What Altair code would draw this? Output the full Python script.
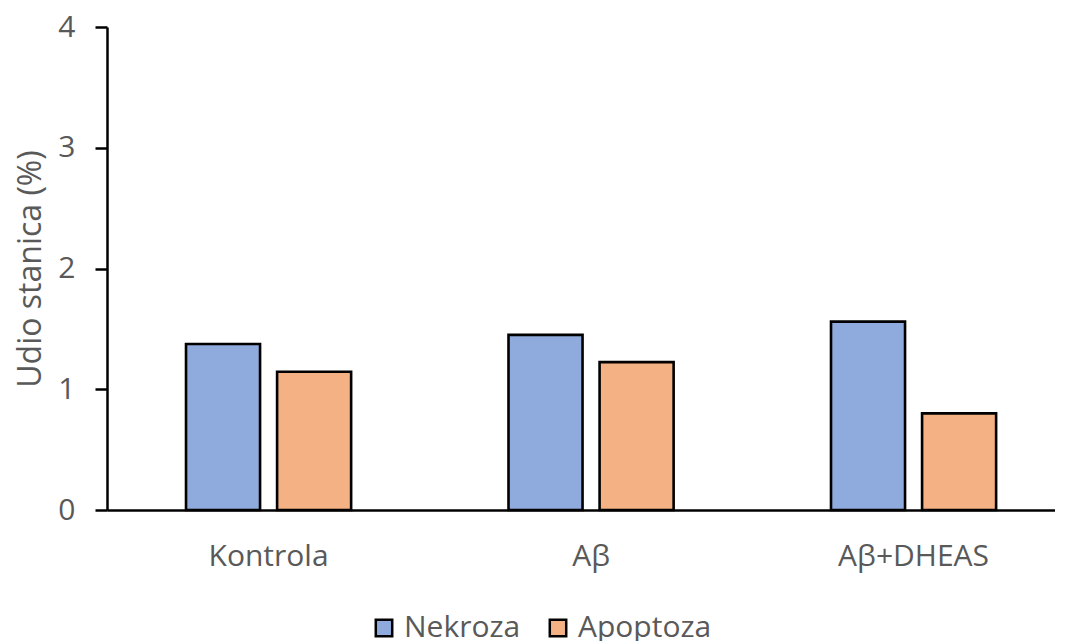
import altair as alt
import pandas as pd

categories = ["Kontrola", "Aβ", "Aβ+DHEAS"]
series = ["Nekroza", "Apoptoza"]
nekroza = [1.375, 1.45, 1.56]
apoptoza = [1.145, 1.225, 0.80]
colors = ["#8FAADC", "#F4B183"]
y_ticks = [0, 1, 2, 3, 4]

rows = []
for i, c in enumerate(categories):
    rows.append({"Grupa": c, "Serija": series[0], "Vrijednost": nekroza[i]})
    rows.append({"Grupa": c, "Serija": series[1], "Vrijednost": apoptoza[i]})
df = pd.DataFrame(rows)

FONT = "Open Sans"
GRAY = "#595959"

chart = alt.Chart(df).mark_bar(stroke="black", strokeWidth=2.6).encode(
    x=alt.X("Grupa:N", sort=categories, title=None,
            scale=alt.Scale(paddingInner=0.488, paddingOuter=0.2138, align=0.573),
            axis=alt.Axis(labelAngle=0, ticks=False, labelPadding=31,
                          labelFontSize=30, labelColor=GRAY, labelFont=FONT,
                          domainColor="black", domainWidth=2.5)),
    xOffset=alt.XOffset("Serija:N", sort=series,
                        scale=alt.Scale(paddingInner=0.187, paddingOuter=0)),
    y=alt.Y("Vrijednost:Q", title="Udio stanica (%)",
            scale=alt.Scale(domain=[0, 4], nice=False),
            axis=alt.Axis(values=y_ticks, grid=False, tickSize=12, tickColor="black",
                          tickWidth=2.5, labelPadding=20, labelFontSize=30,
                          labelColor=GRAY, labelFont=FONT, domainColor="black",
                          domainWidth=2.5, titleFontSize=32, titleColor=GRAY,
                          titleFont=FONT, titleFontWeight="normal",
                          titleX=-77, titleBaseline="middle")),
    color=alt.Color("Serija:N", sort=series,
                    scale=alt.Scale(domain=series, range=colors),
                    legend=alt.Legend(title=None, orient="none", direction="horizontal",
                                      legendX=262, legendY=586,
                                      symbolType="square", symbolSize=270,
                                      symbolStrokeColor="black", symbolStrokeWidth=2.5,
                                      labelFontSize=30, labelColor=GRAY, labelFont=FONT,
                                      labelOffset=5, columnPadding=22)),
).properties(
    width=948, height=483,
    autosize=alt.AutoSizeParams(type="none"),
    padding={"left": 99, "top": 19, "right": 0, "bottom": 131},
).configure(background="white").configure_view(strokeWidth=0)

chart.save("out.html", embed_options={"renderer": "svg", "actions": False})
